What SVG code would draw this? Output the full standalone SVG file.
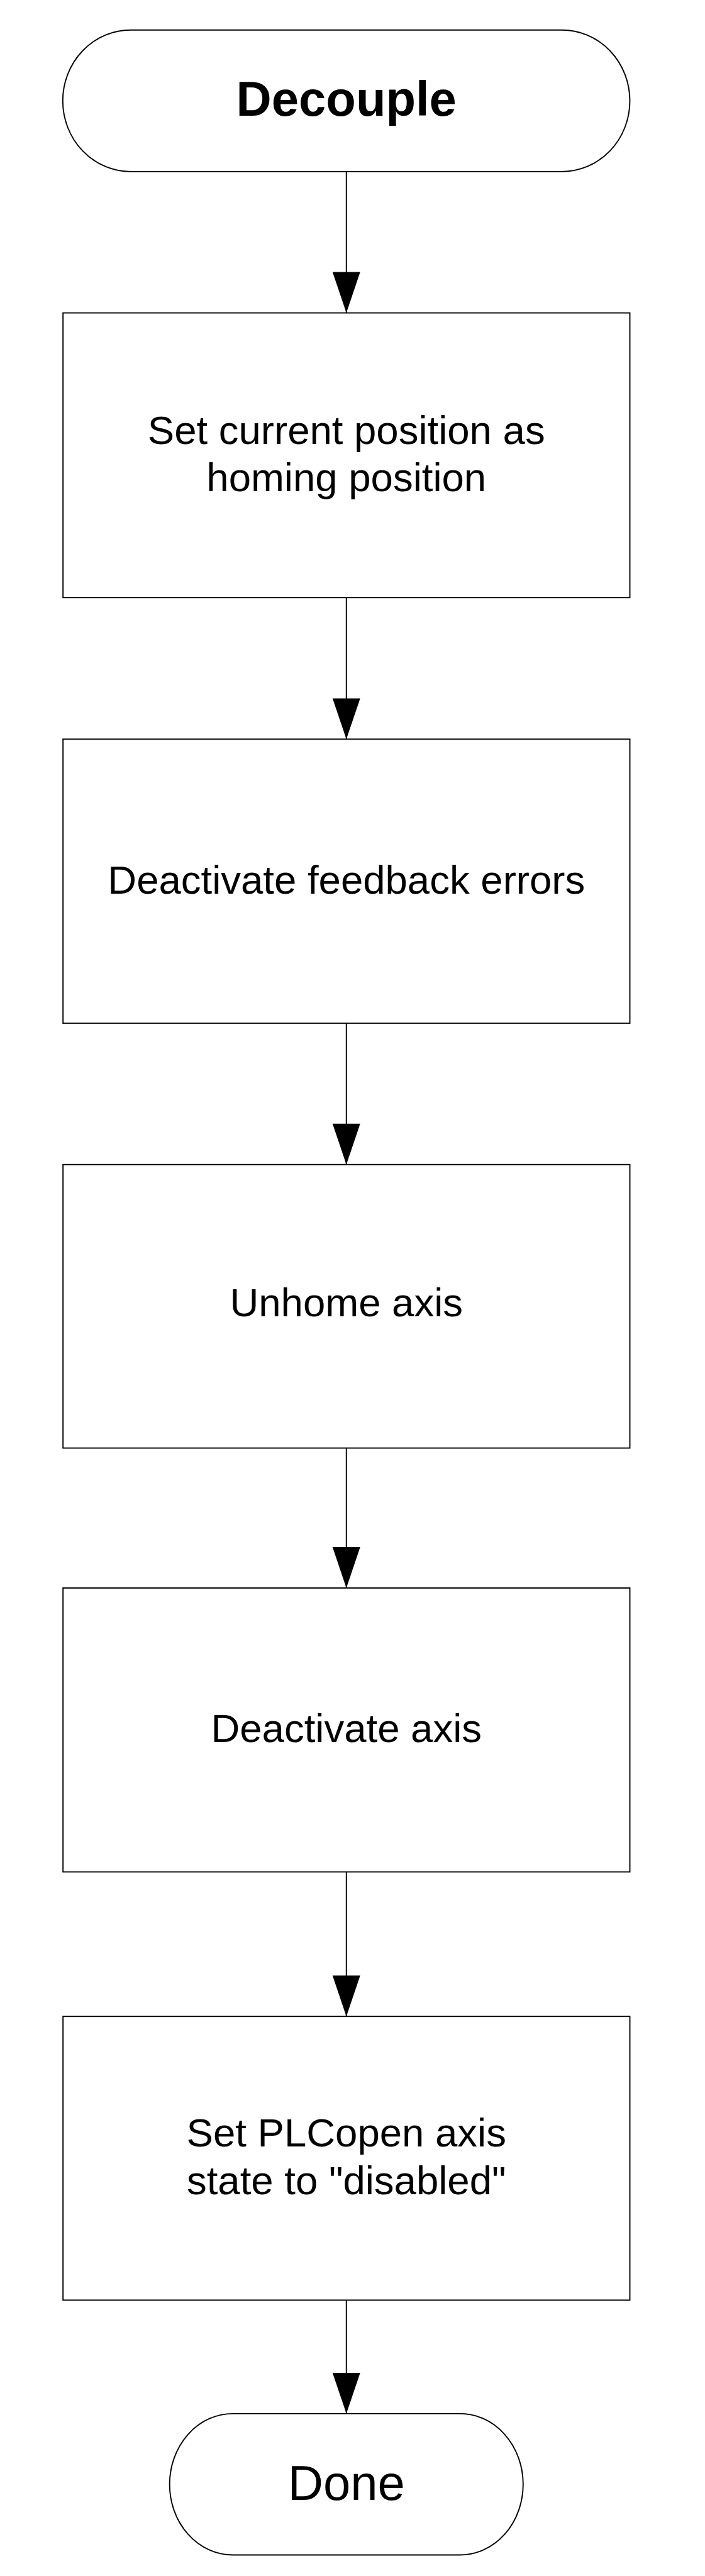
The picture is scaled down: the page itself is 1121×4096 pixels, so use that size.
<svg xmlns="http://www.w3.org/2000/svg" width="1121" height="4096" viewBox="0 0 1121 4096">
  <style>
    .shape { fill: #ffffff; stroke: #000000; stroke-width: 2; }
    .conn { fill: none; stroke: #000000; stroke-width: 2; }
    .lbl { font-family: "Liberation Sans", Arial, sans-serif; font-size: 66.5px; fill: #000000; text-anchor: middle; }
    .term { font-family: "Liberation Sans", Arial, sans-serif; font-size: 81.5px; fill: #000000; text-anchor: middle; }
  </style>
  <defs>
    <marker id="arrow" markerUnits="userSpaceOnUse" viewBox="0 -23 68 46" refX="68" refY="0" markerWidth="68" markerHeight="46" orient="auto" overflow="visible">
      <path d="M0,-23 L68,0 L0,23 Z" fill="#000000" stroke="none"/>
    </marker>
  </defs>
  <rect x="0" y="0" width="1121" height="4096" fill="#ffffff"/>
  <g transform="scale(0.955)">
    <g id="connectors">
      <line class="conn" x1="576.7" y1="285.7" x2="576.7" y2="521" marker-end="url(#arrow)"/>
      <line class="conn" x1="576.7" y1="995" x2="576.7" y2="1230.7" marker-end="url(#arrow)"/>
      <line class="conn" x1="576.7" y1="1703.6" x2="576.7" y2="1939" marker-end="url(#arrow)"/>
      <line class="conn" x1="576.7" y1="2411" x2="576.7" y2="2644" marker-end="url(#arrow)"/>
      <line class="conn" x1="576.7" y1="3116.7" x2="576.7" y2="3357.3" marker-end="url(#arrow)"/>
      <line class="conn" x1="576.7" y1="3829.7" x2="576.7" y2="4018.7" marker-end="url(#arrow)"/>
    </g>
    <g id="node-decouple">
      <rect class="shape" x="104.5" y="50" width="944.2" height="235.7" rx="113" ry="117.85"/>
      <text class="term" x="576.7" y="193" font-weight="bold">Decouple</text>
    </g>
    <g id="node-set-homing">
      <rect class="shape" x="104.9" y="521" width="943.8" height="474"/>
      <text class="lbl" x="576.7" y="739.3">Set current position as</text>
      <text class="lbl" x="576.7" y="818.3">homing position</text>
    </g>
    <g id="node-deactivate-feedback">
      <rect class="shape" x="104.9" y="1230.7" width="943.8" height="472.9"/>
      <text class="lbl" x="576.7" y="1488">Deactivate feedback errors</text>
    </g>
    <g id="node-unhome">
      <rect class="shape" x="104.9" y="1939" width="943.8" height="472"/>
      <text class="lbl" x="576.7" y="2191.7">Unhome axis</text>
    </g>
    <g id="node-deactivate-axis">
      <rect class="shape" x="104.9" y="2644" width="943.8" height="472.7"/>
      <text class="lbl" x="576.7" y="2900.7">Deactivate axis</text>
    </g>
    <g id="node-plcopen">
      <rect class="shape" x="104.9" y="3357.3" width="943.8" height="472.4"/>
      <text class="lbl" x="576.7" y="3574.3">Set PLCopen axis</text>
      <text class="lbl" x="576.7" y="3653.3">state to "disabled"</text>
    </g>
    <g id="node-done">
      <rect class="shape" x="282.4" y="4018.7" width="588.6" height="235.3" rx="105" ry="117.65"/>
      <text class="term" x="576.7" y="4162">Done</text>
    </g>
  </g>
</svg>
